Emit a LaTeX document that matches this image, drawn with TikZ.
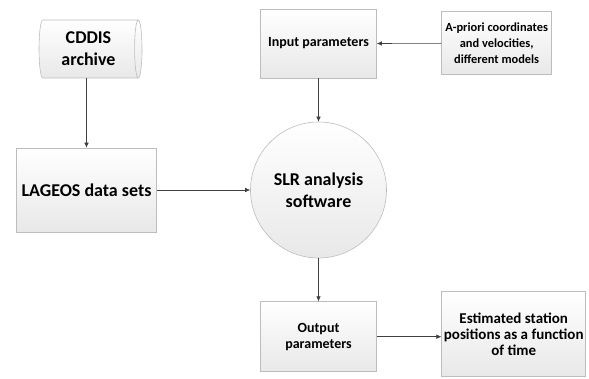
\documentclass[tikz,border=0pt]{standalone}
\usepackage{fontspec}
\setmainfont{Carlito}
\usetikzlibrary{arrows.meta,positioning,shapes.geometric}
\definecolor{FlowLine}{HTML}{404040}
\definecolor{FlowEdge}{HTML}{BDBDBD}
\definecolor{FlowFill}{HTML}{E8E8E8}

\begin{document}
\begin{tikzpicture}[x=1pt,y=-1pt,
    flowbox/.style={draw=FlowEdge,line width=0.6pt,top color=white,bottom color=FlowFill,
      align=center,inner sep=0pt},
    bigtext/.style={font=\fontsize{18pt}{22pt}\selectfont\bfseries},
    midtext/.style={font=\fontsize{14pt}{16pt}\selectfont\bfseries},
    flowarrow/.style={-{Latex[length=5pt,width=4.5pt]},FlowLine,line width=0.6pt}]
        \useasboundingbox (0,0) rectangle (589,379);
        \node[flowbox,bigtext,cylinder,shape aspect=0.22,minimum width=58pt,minimum height=103pt] (cddis) at (88.5,49) {CDDIS\\archive};
        \node[flowbox,bigtext,minimum width=140pt,minimum height=84pt] (lageos) at (86.5,190) {LAGEOS data sets};
        \node[flowbox,bigtext,circle,minimum size=136pt] (slr) at (318.5,190) {SLR analysis\\software};
        \node[flowbox,midtext,minimum width=116pt,minimum height=69pt] (input) at (318.5,43.5) {Input parameters};
        \node[flowbox,font=\fontsize{12.4pt}{15.7pt}\selectfont\bfseries,minimum width=110pt,minimum height=63pt] (apriori) at (496.7,43.3) {A-priori coordinates\\and velocities,\\different models};
        \node[flowbox,midtext,minimum width=116pt,minimum height=70pt] (output) at (318.5,336.7) {Output\\parameters};
        \node[flowbox,font=\fontsize{15pt}{15.8pt}\selectfont\bfseries,minimum width=144pt,minimum height=85pt] (estim) at (513.7,334.2) {Estimated station\\positions as a function\\of time};
        \draw[flowarrow] (cddis.south -| lageos.north) -- (lageos.north);
        \draw[flowarrow] (lageos.east) -- (slr.west);
        \draw[flowarrow] (apriori.west) -- (input.east);
        \draw[flowarrow] (input.south) -- (slr.north);
        \draw[flowarrow] (slr.south) -- (output.north);
        \draw[flowarrow] (output.east) -- (output.east -| estim.west);
      \end{tikzpicture}
\end{document}
